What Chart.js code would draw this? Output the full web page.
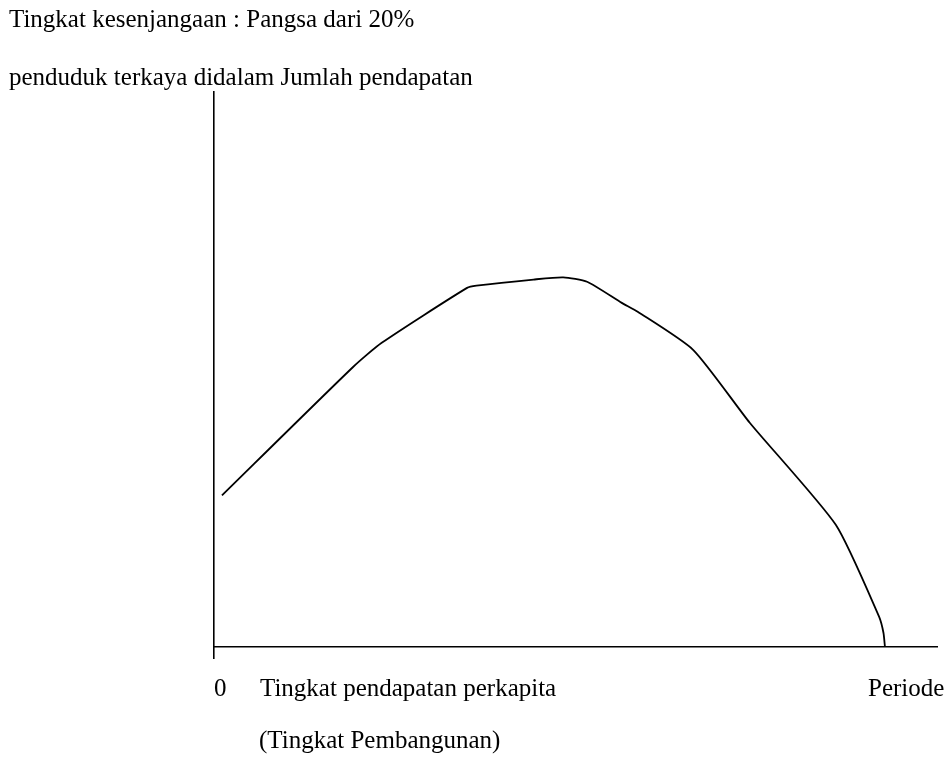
<!DOCTYPE html>
<html>
<head>
<meta charset="utf-8">
<script src="https://cdn.jsdelivr.net/npm/chart.js@4.4.0/dist/chart.umd.min.js"></script>
<style>
  body { margin: 0; background: #fff; }
  #wrap { position: relative; width: 951px; height: 760px; }
  .lbl { position: absolute; font-family: "Liberation Serif", "Times New Roman", serif; font-size: 25px; line-height: 1; color: #000; white-space: nowrap; }
</style>
</head>
<body>
<div id="wrap">
  <canvas id="myChart" width="951" height="760"></canvas>
  <div class="lbl" style="left:9px; top:6px;">Tingkat kesenjangaan : Pangsa dari 20%</div>
  <div class="lbl" style="left:9px; top:64px;">penduduk terkaya didalam Jumlah pendapatan</div>
  <div class="lbl" style="left:214px; top:675px;">0</div>
  <div class="lbl" style="left:260px; top:675px;">Tingkat pendapatan perkapita</div>
  <div class="lbl" style="left:868px; top:675px;">Periode</div>
  <div class="lbl" style="left:259px; top:727px;">(Tingkat Pembangunan)</div>
</div>
<script>
// tingkat pembangunan (x) vs tingkat kesenjangan (y)
const periode = [1.1, 19.2, 23.2, 35.0, 36.3, 44.2, 48.3, 51.6, 56.4, 58.6, 66.3, 74.1, 86.0, 92.0, 92.6, 92.8];
const kesenjangan = [27.3, 50.4, 54.8, 64.7, 65.1, 66.2, 66.6, 65.8, 62.0, 60.4, 53.5, 40.4, 22.0, 5.4, 2.5, 0];

const points = periode.map(function (x, i) {
  return { x: x, y: kesenjangan[i] };
});

const ctx = document.getElementById('myChart').getContext('2d');
const myChart = new Chart(ctx, {
  type: 'line',
  data: {
    datasets: [{
      data: points,
      borderColor: '#000',
      borderWidth: 1.8,
      pointRadius: 0,
      tension: 0.2,
      fill: false
    }]
  },
  options: {
    responsive: false,
    animation: false,
    devicePixelRatio: 1,
    layout: {
      padding: { left: 214, right: 14, top: 92, bottom: 102 }
    },
    plugins: {
      legend: { display: false },
      tooltip: { enabled: false }
    },
    scales: {
      x: {
        type: 'linear',
        min: 0,
        max: 100,
        position: { y: 0 },
        grid: { display: false },
        ticks: { display: false },
        border: { display: true, color: '#000', width: 1.6 }
      },
      y: {
        type: 'linear',
        min: -2,
        max: 100,
        grid: { display: false },
        ticks: { display: false },
        border: { display: true, color: '#000', width: 1.6 },
        afterFit: function (scale) { scale.width = 0; }
      }
    }
  }
});
</script>
</body>
</html>
